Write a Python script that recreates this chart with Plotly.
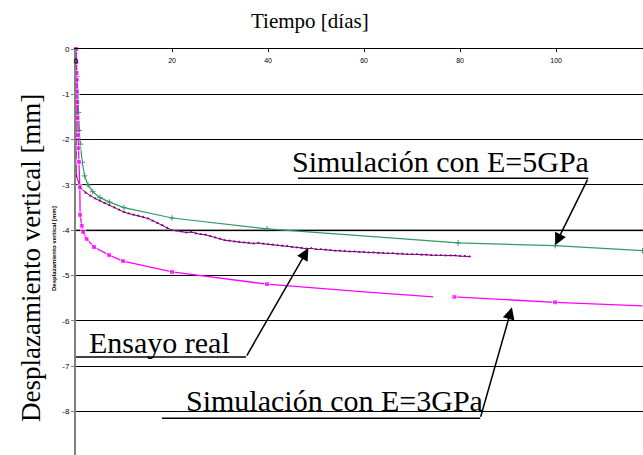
import plotly.graph_objects as go

# ---------------- data ----------------
x_e5 = [0, 0.1, 0.2, 0.3, 0.5, 0.7, 0.9, 1.3, 1.8, 2.5, 3.5, 5, 7, 10, 20, 39.8, 79.6, 99.8, 118]
y_e5 = [0, -0.3, -0.6, -1.0, -1.4, -1.8, -2.1, -2.5, -2.8, -3.0, -3.15, -3.28, -3.38, -3.5, -3.73, -3.97, -4.28, -4.34, -4.45]

x_e3 = [0, 0.05, 0.1, 0.15, 0.2, 0.25, 0.3, 0.4, 0.5, 0.6, 0.8, 0.85, 1.2, 1.5, 2.2, 3.75, 6.9, 9.8, 20, 39.8, 60, 74.4, None, 78.8, 99.8, 118]
y_e3 = [0, -0.28, -0.53, -0.68, -0.94, -1.17, -1.52, -1.9, -2.19, -2.49, -3.05, -3.66, -3.9, -4.04, -4.19, -4.37, -4.55, -4.68, -4.92, -5.19, -5.36, -5.47, None, -5.47, -5.59, -5.67]
m_e3 = [5, 5, 5, 5, 5, 5, 5, 5, 5, 5, 5, 5, 5, 5, 5, 5, 5, 5, 5, 5, 0, 0, 0, 5, 5, 0]

x_real = [0, 0.05] + list(range(1, 83))
y_real = [0, -2.80,
          -3.08, -3.17, -3.24, -3.30, -3.35, -3.40, -3.45, -3.50, -3.55, -3.60,
          -3.63, -3.66, -3.68, -3.71, -3.74, -3.79, -3.84, -3.89, -3.95, -4.00,
          -4.01, -4.03, -4.05, -4.04, -4.07, -4.09, -4.10, -4.13, -4.16, -4.19,
          -4.22, -4.23, -4.25, -4.26, -4.27, -4.28, -4.29, -4.28, -4.30, -4.31,
          -4.32, -4.33, -4.34, -4.35, -4.37, -4.38, -4.39, -4.41, -4.40, -4.42,
          -4.42, -4.43, -4.44, -4.45, -4.45, -4.46, -4.47, -4.47, -4.48, -4.48,
          -4.49, -4.49, -4.50, -4.50, -4.51, -4.51, -4.52, -4.52, -4.53, -4.53,
          -4.53, -4.54, -4.54, -4.55, -4.55, -4.55, -4.56, -4.56, -4.56, -4.57,
          -4.57, -4.58]

x_ticks = [0, 20, 40, 60, 80, 100]
x_tick_labels = ["0", "20", "40", "60", "80", "100"]
y_ticks = [0, -1, -2, -3, -4, -5, -6, -7, -8, -9]
y_tick_labels = ["0", "-1", "-2", "-3", "-4", "-5", "-6", "-7", "-8", "-9"]

GREEN = "#339966"
PINK = "#FF00FF"
PURPLE = "#800080"
SERIF = "Liberation Serif, Times New Roman, serif"
SANS = "Liberation Sans, Arial, sans-serif"

W, H = 643, 455
L, T = 76, 49
PW, PH = W - L, H - T


def px_paper(px, py):
    return (px - L) / PW, (H - py) / PH


fig = go.Figure()

fig.add_trace(go.Scatter(x=x_e5, y=y_e5, mode="lines+markers", cliponaxis=False,
                         line=dict(color=GREEN, width=1.2),
                         marker=dict(symbol="cross-thin", size=4, color=GREEN,
                                     line=dict(color=GREEN, width=1))))
fig.add_trace(go.Scatter(x=x_real, y=y_real, mode="lines+markers", cliponaxis=False,
                         line=dict(color=PURPLE, width=1),
                         marker=dict(symbol="triangle-up", size=3, color=PURPLE)))
fig.add_trace(go.Scatter(x=x_e3, y=y_e3, mode="lines+markers", cliponaxis=False,
                         connectgaps=False,
                         line=dict(color=PINK, width=1.3),
                         marker=dict(symbol="square", size=m_e3, color=PINK)))

# thicker gray line at -4
fig.add_shape(type="line", xref="paper", yref="y", x0=0, x1=1, y0=-4, y1=-4,
              line=dict(color="#808080", width=2), layer="between")


def underline(x0, x1, y):
    fig.add_shape(type="line", xref="x", yref="y", x0=x0, x1=x1, y0=y, y1=y,
                  line=dict(color="black", width=1.5))


underline(46.25, 106.7, -2.85)
underline(0, 35.4, -6.8)
underline(17.9, 84.2, -8.15)


def arrow(tx, ty, ax, ay):
    fig.add_annotation(x=tx, y=ty, ax=ax, ay=ay, xref="x", yref="y", axref="x", ayref="y",
                       text="", showarrow=True, arrowhead=2, arrowsize=1.6,
                       arrowwidth=1.5, arrowcolor="black")


arrow(99.8, -4.33, 106.7, -2.85)
arrow(48.4, -4.40, 35.4, -6.8)
arrow(90.8, -5.70, 84.2, -8.15)


def label(text, x, y):
    fig.add_annotation(x=x, y=y, xref="x", yref="y", text=text, showarrow=False,
                       font=dict(family=SERIF, size=30, color="black"),
                       xanchor="center", yanchor="middle")


label("Simulación con E=5GPa", 76.0, -2.49)
label("Ensayo real", 17.3, -6.47)
label("Simulación con E=3GPa", 53.8, -7.75)

# first x tick label (hidden by plotly for inside labels at the domain edge)
fig.add_annotation(x=x_ticks[0], y=1, xref="x", yref="paper", text=x_tick_labels[0],
                   showarrow=False, xanchor="center", yanchor="middle", yshift=-12,
                   font=dict(family=SANS, size=7, color="black"))

# titles
tx, ty = px_paper(310, 21)
fig.add_annotation(x=tx, y=ty, xref="paper", yref="paper", text="Tiempo [días]",
                   showarrow=False, xanchor="center", yanchor="middle",
                   font=dict(family=SERIF, size=21, color="black"))
tx, ty = px_paper(31, 258)
fig.add_annotation(x=tx, y=ty, xref="paper", yref="paper",
                   text="Desplazamiento vertical [mm]", showarrow=False, textangle=-90,
                   xanchor="center", yanchor="middle",
                   font=dict(family=SERIF, size=27, color="black"))
tx, ty = px_paper(54, 249)
fig.add_annotation(x=tx, y=ty, xref="paper", yref="paper",
                   text="<b>Desplazamiento vertical [mm]</b>", showarrow=False, textangle=-90,
                   xanchor="center", yanchor="middle",
                   font=dict(family=SANS, size=6, color="black"))

fig.update_layout(
    width=W, height=H,
    margin=dict(l=L, r=0, t=T, b=0, autoexpand=False),
    paper_bgcolor="white", plot_bgcolor="white",
    showlegend=False,
    xaxis=dict(range=[0, 118.1], side="top", tickvals=x_ticks, ticktext=x_tick_labels,
               ticks="inside", ticklen=3, tickcolor="black",
               ticklabelposition="inside", ticklabeloverflow="allow",
               ticklabelstandoff=5, automargin=False,
               tickfont=dict(family=SANS, size=7, color="black"),
               showgrid=False, zeroline=False,
               showline=True, linecolor="black", linewidth=1),
    yaxis=dict(range=[-8.96, 0], tickvals=y_ticks, ticktext=y_tick_labels,
               ticks="outside", ticklen=3, tickcolor="#808080", automargin=False,
               ticklabeloverflow="allow",
               tickfont=dict(family=SANS, size=8, color="black"),
               showgrid=True, gridcolor="black", gridwidth=1, zeroline=False,
               showline=True, linecolor="#808080", linewidth=2),
)

fig.write_html("out.html", config={"displayModeBar": False},
               post_script="document.body.style.margin='0';")
